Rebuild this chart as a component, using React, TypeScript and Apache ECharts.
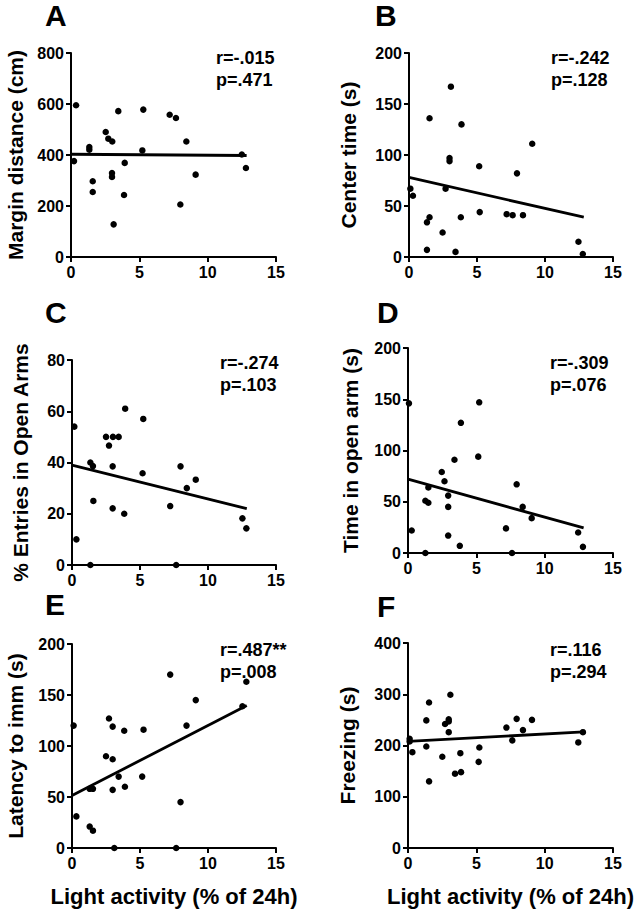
import React, { useEffect, useRef } from "react";
import * as echarts from "echarts";

// ---------- data ----------
const xTicks = [0, 5, 10, 15];

const xA = [0.22, 0.37, 1.34, 1.34, 1.59, 1.59, 2.54, 2.73, 3.02, 3.0, 3.0, 3.12, 3.46, 3.93, 3.88, 5.22, 5.29, 7.22, 7.68, 8.0, 8.44, 9.12, 12.5, 12.8];
const yA = [376, 595, 431, 421, 297, 255, 490, 464, 453, 329, 314, 128, 572, 369, 243, 418, 578, 558, 545, 206, 453, 323, 402, 349];

const xB = [0.1, 0.29, 1.32, 1.32, 1.51, 1.51, 2.47, 2.69, 3.08, 2.98, 2.98, 3.42, 3.86, 3.81, 5.16, 5.2, 7.18, 7.62, 7.94, 8.38, 9.06, 12.46, 12.78];
const yB = [67, 60, 34, 7, 136, 39, 24, 67, 167, 97, 94, 5, 130, 39, 89, 44, 42, 41, 82, 41, 111, 15, 3];

const xC = [0.17, 0.32, 1.35, 1.54, 1.35, 1.57, 2.5, 2.72, 3.01, 2.99, 2.99, 3.43, 3.91, 3.84, 5.24, 5.19, 7.22, 7.66, 7.98, 8.44, 9.1, 12.53, 12.82];
const yC = [54, 10, 40, 38.6, 0, 25, 50, 46.6, 50, 38.5, 22.1, 50, 61, 20, 57, 35.8, 23, 0, 38.5, 30, 33.3, 18.2, 14.3];

const xD = [0.07, 0.27, 1.27, 1.27, 1.49, 1.49, 2.47, 2.67, 2.94, 2.94, 2.94, 3.4, 3.87, 3.79, 5.21, 5.14, 7.17, 7.61, 7.95, 8.39, 9.05, 12.45, 12.8];
const yD = [146, 22, 51, 0, 64, 49, 79, 70, 56, 45, 17, 91, 127, 7, 147, 94, 24, 0, 67, 45, 34, 20, 6];

const xE = [0.12, 0.32, 1.3, 1.54, 1.3, 1.54, 2.5, 2.72, 2.99, 2.99, 2.99, 3.11, 3.43, 3.84, 3.89, 5.26, 5.16, 7.22, 7.66, 7.98, 8.42, 9.1, 12.53, 12.82];
const yE = [120, 31, 21, 17, 58, 58, 90, 127, 119, 87, 57, 0, 70, 115, 60, 116, 70, 170, 0, 45, 120, 145, 139, 163];

const xF = [0.12, 0.12, 0.32, 1.34, 1.34, 1.54, 1.54, 2.51, 2.71, 2.98, 2.98, 2.98, 3.1, 3.44, 3.88, 3.83, 5.22, 5.17, 7.2, 7.63, 7.95, 8.41, 9.07, 12.46, 12.8];
const yF = [213, 208, 187, 249, 198, 284, 130, 178, 242, 251, 247, 226, 299, 145, 148, 185, 196, 168, 235, 210, 252, 230, 250, 206, 226];

// regression line values at x = fitX[0] and fitX[1]
const fitX = [0, 12.85];
const fitA = [403, 398];
const fitB = [78, 39];
const fitC = [39, 22];
const fitD = [72, 24.5];
const fitE = [51.5, 139.6];
const fitF = [208, 226.5];

const yMax = [800, 200, 80, 200, 200, 400];
const yStep = [200, 50, 20, 50, 50, 100];

const letters = ["A", "B", "C", "D", "E", "F"];
const yTitles = ["Margin distance (cm)", "Center time (s)", "% Entries in Open Arms", "Time in open arm (s)", "Latency to imm (s)", "Freezing (s)"];
const rTexts = ["r=-.015", "r=-.242", "r=-.274", "r=-.309", "r=.487**", "r=.116"];
const pTexts = ["p=.471", "p=.128", "p=.103", "p=.076", "p=.008", "p=.294"];
const xTitle = "Light activity (% of 24h)";

// ---------- layout ----------
const FONT = "'Liberation Sans', Arial, Helvetica, sans-serif";
const grids = [
  { left: 71, top: 53, width: 205, height: 204 },
  { left: 409, top: 53, width: 204, height: 204 },
  { left: 72, top: 360, width: 204, height: 205 },
  { left: 408, top: 348, width: 205, height: 205 },
  { left: 72, top: 644, width: 204, height: 204 },
  { left: 408, top: 643, width: 205, height: 205 },
];
const nameGaps = [45, 50, 41, 47, 46, 50];
const letterPos = [
  [45, 15], [375, 15], [45, 312], [377, 312], [45, 604], [377, 606],
];
const statPos = [
  [216, 47], [551, 47], [220, 352], [550, 352], [220, 639], [550, 639],
];

export default function App() {
  const ref = useRef<HTMLDivElement>(null);

  useEffect(() => {
    if (!ref.current) return;
    const chart = echarts.init(ref.current, null, { renderer: "svg" });

    const xs = [xA, xB, xC, xD, xE, xF];
    const ys = [yA, yB, yC, yD, yE, yF];
    const fits = [fitA, fitB, fitC, fitD, fitE, fitF];

    const xAxes: any[] = [];
    const yAxes: any[] = [];
    const series: any[] = [];
    const graphics: any[] = [];

    for (let i = 0; i < 6; i++) {
      const bottomRow = i >= 4;
      xAxes.push({
        type: "value",
        gridIndex: i,
        min: xTicks[0],
        max: xTicks[xTicks.length - 1],
        interval: xTicks[1] - xTicks[0],
        axisLine: { show: true, onZero: false, lineStyle: { color: "#000", width: 2 } },
        axisTick: { show: true, length: 5, lineStyle: { color: "#000", width: 2 } },
        axisLabel: { color: "#000", fontSize: 16, fontWeight: "bold", fontFamily: FONT, margin: 7 },
        splitLine: { show: false },
        name: bottomRow ? xTitle : "",
        nameLocation: "middle",
        nameGap: 37,
        nameTextStyle: { color: "#000", fontSize: 22, fontWeight: "bold", fontFamily: FONT, verticalAlign: "top" },
      });
      yAxes.push({
        type: "value",
        gridIndex: i,
        min: 0,
        max: yMax[i],
        interval: yStep[i],
        axisLine: { show: true, onZero: false, lineStyle: { color: "#000", width: 2 } },
        axisTick: { show: true, length: 5, lineStyle: { color: "#000", width: 2 } },
        axisLabel: { color: "#000", fontSize: 16, fontWeight: "bold", fontFamily: FONT, margin: 7 },
        splitLine: { show: false },
        name: yTitles[i],
        nameLocation: "middle",
        nameRotate: 90,
        nameGap: nameGaps[i],
        nameTextStyle: { color: "#000", fontSize: 21, fontWeight: "bold", fontFamily: FONT },
      });
      series.push({
        type: "scatter",
        xAxisIndex: i,
        yAxisIndex: i,
        symbol: "circle",
        symbolSize: 6.5,
        itemStyle: { color: "#000", opacity: 1 },
        data: xs[i].map((x, k) => [x, ys[i][k]]),
        z: 3,
      });
      series.push({
        type: "line",
        xAxisIndex: i,
        yAxisIndex: i,
        symbol: "none",
        lineStyle: { color: "#000", width: 2.8 },
        data: fitX.map((x, k) => [x, fits[i][k]]),
        z: 4,
      });
      graphics.push({
        type: "text",
        x: letterPos[i][0],
        y: letterPos[i][1],
        style: {
          text: letters[i],
          fill: "#000",
          font: `bold 30px ${FONT}`,
          textAlign: "left",
          textVerticalAlign: "middle",
        },
      });
      graphics.push({
        type: "text",
        x: statPos[i][0],
        y: statPos[i][1],
        style: {
          text: rTexts[i] + "\n" + pTexts[i],
          fill: "#000",
          font: `bold 18px ${FONT}`,
          lineHeight: 22,
          textAlign: "left",
          textVerticalAlign: "top",
        },
      });
    }

    chart.setOption({
      animation: false,
      backgroundColor: "#fff",
      grid: grids.map((g) => ({ ...g, containLabel: false })),
      xAxis: xAxes,
      yAxis: yAxes,
      series,
      graphic: graphics,
    });

    return () => chart.dispose();
  }, []);

  return (
    <div
      ref={ref}
      style={{ position: "absolute", left: 0, top: 0, width: 640, height: 913, background: "#fff" }}
    />
  );
}
